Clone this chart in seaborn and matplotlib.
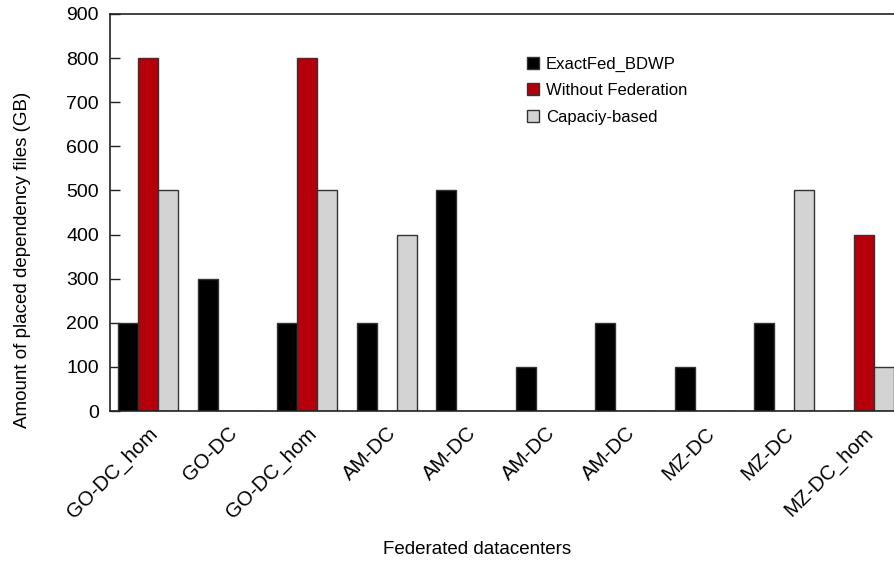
import matplotlib
matplotlib.use("Agg")
import matplotlib.pyplot as plt
import seaborn as sns
import pandas as pd

# Datacenters along the x axis (names repeat, so bars are placed by slot index)
datacenters = ["GO-DC_hom", "GO-DC", "GO-DC_hom", "AM-DC", "AM-DC",
               "AM-DC", "AM-DC", "MZ-DC", "MZ-DC", "MZ-DC_hom"]
series_names = ["ExactFed_BDWP", "Without Federation", "Capaciy-based"]
exactfed_bdwp = [200, 300, 200, 200, 500, 100, 200, 100, 200, 0]
without_federation = [800, 0, 800, 0, 0, 0, 0, 0, 0, 400]
capacity_based = [500, 0, 500, 400, 0, 0, 0, 0, 500, 100]
yticks = [0, 100, 200, 300, 400, 500, 600, 700, 800, 900]

colors = ["#000000", "#b5000b", "#d3d3d3"]

slots = [str(i) for i in range(len(datacenters))]
df = pd.DataFrame({
    "slot": slots * 3,
    "series": sum([[s] * len(slots) for s in series_names], []),
    "value": exactfed_bdwp + without_federation + capacity_based,
})

sns.set_style("white")
plt.rcParams["font.family"] = ["Liberation Sans", "DejaVu Sans"]
for key in ["text.color", "axes.labelcolor", "xtick.color", "ytick.color"]:
    plt.rcParams[key] = "black"

fig = plt.figure(figsize=(8.95, 5.61), dpi=100)
ax = fig.add_axes([110 / 895, 150 / 561, 792 / 895, 397 / 561])

sns.barplot(data=df, x="slot", y="value", hue="series", order=slots,
            hue_order=series_names, palette=colors, width=0.75,
            edgecolor="#333333", linewidth=1.0, saturation=1, ax=ax)

ax.set_xlim(-0.48, 9.48)
ax.set_ylim(0, 900)
ax.set_yticks(yticks)
ax.set_yticklabels([str(t) for t in yticks], fontsize=14)
ax.set_xticks(range(len(datacenters)))
ax.set_xticklabels(datacenters, rotation=45, ha="right",
                   rotation_mode="anchor", fontsize=14.8)
ax.tick_params(axis="y", direction="in", length=7, width=1, color="#222222",
               left=True, pad=8)
ax.tick_params(axis="x", length=0, pad=9)

for side in ["left", "bottom", "top"]:
    ax.spines[side].set_visible(True)
    ax.spines[side].set_color("#222222")
    ax.spines[side].set_linewidth(1.2)
ax.spines["right"].set_visible(False)

ax.set_xlabel("Federated datacenters", fontsize=13.5)
ax.set_ylabel("Amount of placed dependency files (GB)", fontsize=13.5)
ax.xaxis.set_label_coords(0.463, -0.327)
ax.yaxis.set_label_coords(-0.1, 0.38)

handles, labels = ax.get_legend_handles_labels()
ax.legend(handles, labels, loc="upper left", bbox_to_anchor=(0.508, 0.93),
          frameon=False, fontsize=12, handlelength=0.72, handleheight=0.72,
          handletextpad=0.4, labelspacing=0.68)

fig.savefig("out.png", dpi=100)
